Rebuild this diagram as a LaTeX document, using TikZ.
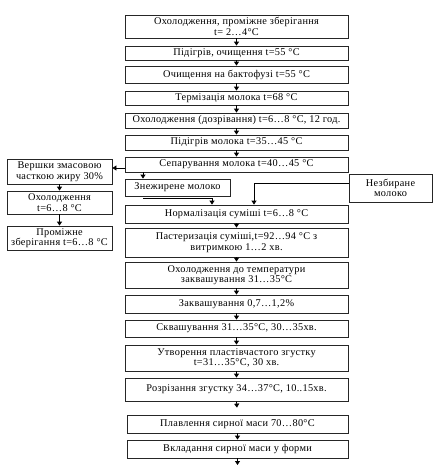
\documentclass[tikz,border=0pt]{standalone}
\usepackage{fontspec}
\setmainfont{Liberation Serif}[LetterSpace=3]
\usetikzlibrary{arrows.meta}
\newcommand\mkbox[6]{%
  \node[box, minimum width={(#4-#2)*1pt}, minimum height={(#5-#3)*1pt}]
    (#1) at ({(#2+#4)/2},{(#3+#5)/2}) {#6};}
\begin{document}
\begin{tikzpicture}[x=1pt,y=-1pt,
  box/.style={draw=black!85, line width=0.8pt, inner sep=0pt, align=center,
    font=\fontsize{10.3}{10.5}\selectfont},
  arr/.style={draw=black, line width=0.8pt, -{Triangle[width=5pt,length=4pt]}}]
\useasboundingbox (0,0) rectangle (437,466);
% main column
\mkbox{b1}{125}{15}{348}{38}{Охолодження, проміжне зберігання\\t= 2…4°C}
\mkbox{b2}{125}{46}{348}{60}{Підігрів, очищення t=55 °C}
\mkbox{b3}{125}{66}{348}{83}{Очищення на бактофузі t=55 °C}
\mkbox{b4}{125}{91}{348}{105}{Термізація молока t=68 °C}
\mkbox{b5}{125}{113}{348}{128}{Охолодження (дозрівання) t=6…8 °C, 12 год.}
\mkbox{b6}{125}{135}{348}{150}{Підігрів молока t=35…45 °C}
\mkbox{b7}{125}{157}{348}{172}{Сепарування молока t=40…45 °C}
\mkbox{zn}{125}{179}{230}{196}{Знежирене молоко}
\mkbox{nz}{349}{174}{432}{202}{Незбиране\\молоко}
\mkbox{b8}{125}{205}{348}{223}{Нормалізація суміші t=6…8 °C}
\mkbox{b9}{125}{228}{348}{257}{Пастеризація суміші,t=92…94 °C з\\витримкою 1…2 хв.}
\mkbox{b10}{125}{262}{348}{288}{Охолодження до температури\\заквашування 31…35°C}
\mkbox{b11}{125}{295}{348}{313}{Заквашування 0,7…1,2\%}
\mkbox{b12}{125}{320}{348}{337}{Сквашування 31…35°C, 30…35хв.}
\mkbox{b13}{125}{345}{348}{371}{Утворення пластівчастого згустку\\t=31…35°C, 30 хв.}
\mkbox{b14}{125}{378}{348}{401}{Розрізання згустку 34…37°C, 10..15хв.}
\mkbox{b15}{127}{415}{348}{433}{Плавлення сирної маси 70…80°C}
\mkbox{b16}{127}{440}{348}{458}{Вкладання сирної маси у форми}
% left column
\mkbox{l1}{7}{159}{112}{184}{Вершки змасовою\\часткою жиру 30\%}
\mkbox{l2}{7}{191}{112}{214}{Охолодження\\t=6…8 °C}
\mkbox{l3}{7}{226}{112}{250}{Проміжне\\зберігання t=6…8 °C}
% coordinates
\coordinate (s1) at (125,168);
\coordinate (zx) at (143,0);
\coordinate (zs) at (143,198);
\coordinate (zt) at (212,0);
\coordinate (nx) at (254,183);
\coordinate (end) at (237.5,465);
% arrows main
\foreach \a/\b in {b1/b2,b2/b3,b3/b4,b4/b5,b5/b6,b6/b7,b8/b9,b9/b10,b10/b11,b11/b12,b12/b13,b13/b14,b15/b16}
  \draw[arr] (\a.south) -- (\b.north);
\draw[arr, shorten >=7pt] (b14.south) -- (b15.north);
\draw[arr] (b16.south) -- (end);
% side connectors
\draw[arr] (s1) -- (s1 -| l1.east);
\draw[arr] (l1.south) -- (l2.north);
\draw[arr] (l2.south) -- (l3.north);
\draw[arr] (b7.south -| zx) -- (zn.north -| zx);
\draw[arr] (zs) -| (b8.north -| zt);
\draw[arr] (nz.west |- nx) -| (b8.north -| nx);
\end{tikzpicture}
\end{document}
